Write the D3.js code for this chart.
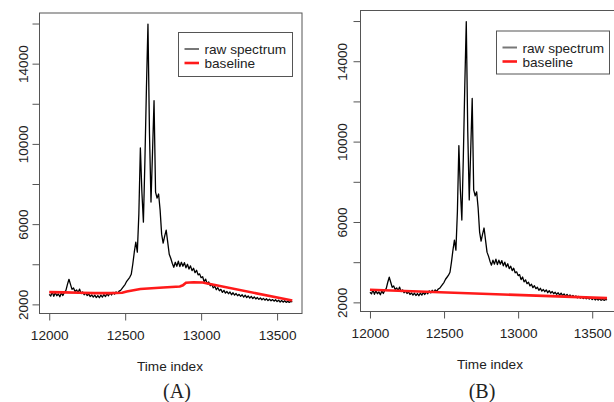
<!DOCTYPE html>
<html>
<head>
<meta charset="utf-8">
<script src="https://cdn.jsdelivr.net/npm/d3@7"></script>
<style>
  body { margin: 0; background: #fff; }
  text { font-family: "Liberation Sans", Arial, sans-serif; fill: #222; }
</style>
</head>
<body>
<script>
// raw spectrum, sampled every 10 time units from 12000
const timeStart = 12000;
const timeStep = 10;
const rawSpectrum = [
  2500, 2420, 2620, 2400, 2580, 2430, 2520, 2380, 2570, 2440,
  2600, 2700, 3000, 3250, 3000, 2750, 2820, 2640, 2720, 2590,
  2760, 2540, 2620, 2480, 2570, 2440, 2520, 2390, 2470, 2360,
  2460, 2340, 2440, 2330, 2460, 2360, 2490, 2390, 2520, 2430,
  2570, 2470, 2600, 2510, 2620, 2550, 2660, 2700, 2800, 2900,
  3000, 3150, 3250, 3350, 3500, 4000, 4600, 5100, 4600, 6500,
  9800, 7600, 6100, 9200, 12800, 15970, 10500, 7100, 9600, 12150,
  7600, 7300, 7500, 6700, 5500, 5050, 5400, 5700, 5100, 4500,
  4300, 4050, 3850, 4100, 3900, 4150, 3880, 4100, 3900, 4080,
  3820, 4000, 3760, 3920, 3680, 3800, 3580, 3700, 3470, 3520,
  3330, 3380, 3130, 3260, 3020, 3120, 2930, 3000, 2820, 2900,
  2730, 2830, 2680, 2750, 2600, 2700, 2560, 2640, 2530, 2620,
  2480, 2580, 2460, 2540, 2430, 2500, 2400, 2480, 2360, 2460,
  2340, 2420, 2310, 2400, 2290, 2370, 2270, 2340, 2250, 2320,
  2230, 2300, 2210, 2280, 2190, 2260, 2180, 2240, 2160, 2230,
  2140, 2210, 2120, 2190, 2110, 2180, 2100, 2160, 2100, 2150,
  2120
];

// baseline (A): piecewise estimate
const baselineATime  = [12000, 12100, 12200, 12300, 12400, 12480, 12510, 12600, 12750, 12860, 12880, 12900, 12950, 13010, 13600];
const baselineAValue = [2610, 2600, 2580, 2560, 2560, 2580, 2640, 2770, 2840, 2890, 2950, 3080, 3100, 3090, 2190];

// baseline (B): straight line
const baselineBTime  = [12000, 13600];
const baselineBValue = [2630, 2210];

const xTicks = [12000, 12500, 13000, 13500];
const yTicks = [2000, 4000, 6000, 8000, 10000, 12000, 14000, 16000];
const yLabels = [2000, 6000, 10000, 14000];
const legendLabels = ["raw spectrum", "baseline"];

const width = 614, height = 402;

const svg = d3.select("body").append("svg")
    .attr("width", width)
    .attr("height", height)
    .style("background", "#fff");

const raw = rawSpectrum.map((v, i) => [timeStart + i * timeStep, v]);

// R-style axis range: data extent plus 4% each side
function rExtent(vals) {
  const [lo, hi] = d3.extent(vals);
  const pad = (hi - lo) * 0.04;
  return [lo - pad, hi + pad];
}

function drawPanel(p) {
  const base = p.time.map((t, i) => [t, p.value[i]]);
  const x = d3.scaleLinear()
      .domain(rExtent(raw.map(d => d[0])))
      .range([p.left, p.right]);
  const y = d3.scaleLinear()
      .domain(rExtent(raw.map(d => d[1]).concat(p.value)))
      .range([p.bottom, p.top]);

  const g = svg.append("g");
  const line = d3.line().x(d => x(d[0])).y(d => y(d[1]));

  g.append("path")
      .datum(raw)
      .attr("fill", "none")
      .attr("stroke", "#000")
      .attr("stroke-width", 1.3)
      .attr("stroke-linejoin", "round")
      .attr("d", line);

  g.append("path")
      .datum(base)
      .attr("fill", "none")
      .attr("stroke", "#ff1a1a")
      .attr("stroke-width", 2.6)
      .attr("d", line);

  // box
  g.append("rect")
      .attr("x", p.left).attr("y", p.top)
      .attr("width", p.right - p.left).attr("height", p.bottom - p.top)
      .attr("fill", "none")
      .attr("stroke", "#555");

  // x axis
  const xAxis = g.append("g")
      .attr("transform", `translate(0,${p.bottom})`)
      .call(d3.axisBottom(x).tickValues(xTicks).tickSize(7).tickPadding(10).tickFormat(d3.format("d")));
  xAxis.select(".domain").remove();
  xAxis.selectAll("line").attr("stroke", "#555");
  xAxis.selectAll("text")
      .attr("font-size", 13.6)
      .attr("fill", "#222");

  // y axis, labels rotated like R
  const yAxis = g.append("g")
      .attr("transform", `translate(${p.left},0)`)
      .call(d3.axisLeft(y).tickValues(yTicks).tickSize(7)
          .tickFormat(d => yLabels.includes(d) ? d : ""));
  yAxis.select(".domain").remove();
  yAxis.selectAll("line").attr("stroke", "#555");
  yAxis.selectAll("text")
      .attr("font-size", 13.6)
      .attr("fill", "#222")
      .attr("text-anchor", "middle")
      .attr("dy", null)
      .attr("x", null)
      .attr("transform", `translate(${-p.left + p.ylabX},0) rotate(-90)`);

  g.append("text")
      .attr("x", p.titleX)
      .attr("y", p.xtitleY)
      .attr("text-anchor", "middle")
      .attr("font-size", 13.6)
      .text("Time index");

  g.append("text")
      .attr("x", p.captionX)
      .attr("y", 398)
      .attr("text-anchor", "middle")
      .style("font-family", "'Liberation Serif', 'Times New Roman', serif")
      .attr("font-size", 20)
      .text(p.caption);

  // legend
  const lg = g.append("g");
  lg.append("rect")
      .attr("x", p.legX).attr("y", p.legY)
      .attr("width", p.legW).attr("height", p.legH)
      .attr("fill", "#fff")
      .attr("stroke", "#555");
  const colors = ["#777", "#ff1a1a"];
  const widths = [2, 2.6];
  legendLabels.forEach((lab, i) => {
    const cy = p.legY + 16.5 + i * 14;
    lg.append("line")
        .attr("x1", p.legX + 6).attr("x2", p.legX + 20.5)
        .attr("y1", cy).attr("y2", cy)
        .attr("stroke", colors[i]).attr("stroke-width", widths[i]);
    lg.append("text")
        .attr("x", p.legX + 26)
        .attr("y", cy + 5)
        .attr("font-size", 13.6)
        .text(lab);
  });
}

drawPanel({
  name: "A", time: baselineATime, value: baselineAValue,
  left: 39.5, right: 302, top: 13, bottom: 313.5,
  ylabX: 28, xtitleY: 370.5, titleX: 170, captionX: 177, caption: "(A)",
  legX: 178.5, legY: 32.5, legW: 114, legH: 44
});

drawPanel({
  name: "B", time: baselineBTime, value: baselineBValue,
  left: 360.5, right: 616.5, top: 10.5, bottom: 311.5,
  ylabX: 347, xtitleY: 368.5, titleX: 490, captionX: 482, caption: "(B)",
  legX: 496.5, legY: 31, legW: 113, legH: 43
});
</script>
</body>
</html>
